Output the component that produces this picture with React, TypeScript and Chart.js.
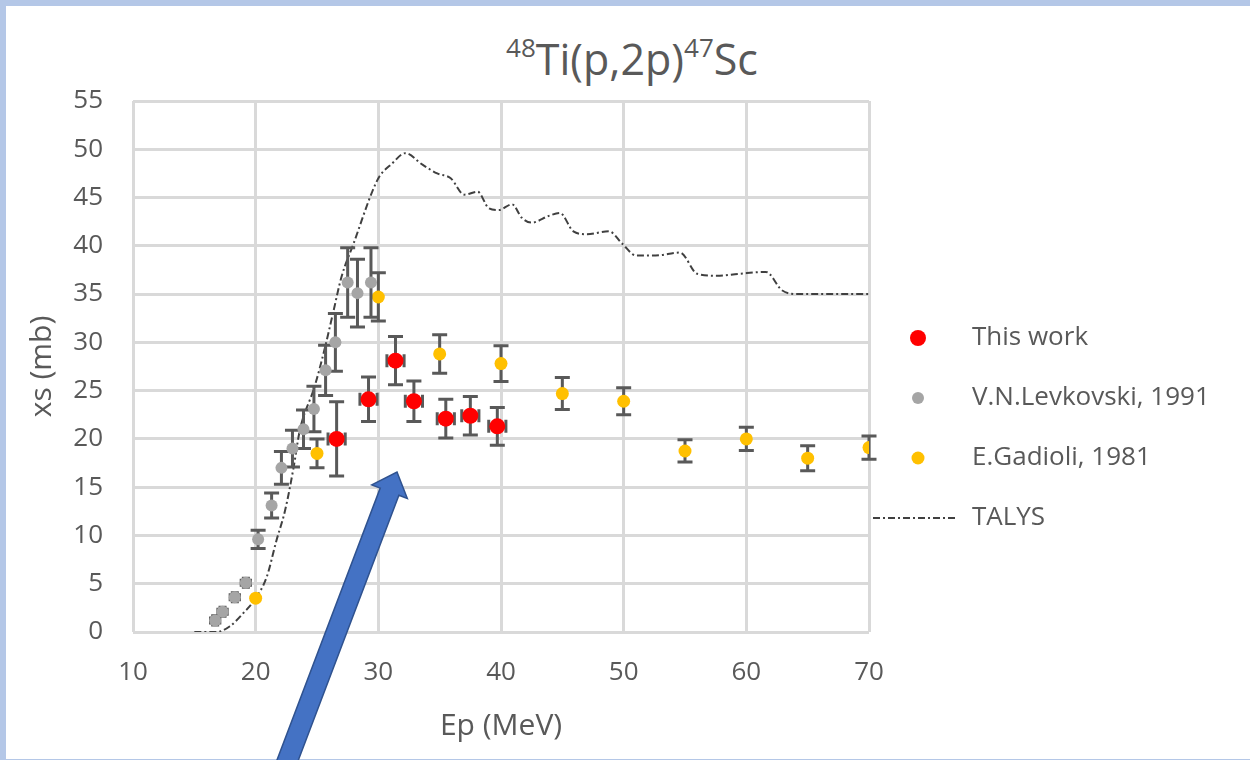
import React, { useEffect, useRef } from "react";
import { Chart, registerables } from "chart.js";

Chart.register(...registerables);

// ---------- data ----------
const thisWorkEnergy = [26.6, 29.2, 31.4, 32.9, 35.5, 37.5, 39.7];
const thisWorkXs = [20.0, 24.1, 28.1, 23.9, 22.1, 22.4, 21.3];
const thisWorkXsErr = [3.85, 2.3, 2.5, 2.1, 2.0, 2.0, 1.95];
const thisWorkEnergyErr = [0.7, 0.7, 0.7, 0.7, 0.7, 0.7, 0.7];

const levkovskiEnergy = [16.7, 17.3, 18.3, 19.2, 20.2, 21.3, 22.1, 23.0, 23.9, 24.75, 25.7, 26.5, 27.5, 28.3, 29.4];
const levkovskiXs = [1.2, 2.1, 3.6, 5.1, 9.6, 13.1, 17.0, 19.0, 21.0, 23.1, 27.1, 30.0, 36.2, 35.1, 36.2];
const levkovskiXsErr = [0.5, 0.5, 0.5, 0.5, 0.95, 1.3, 1.7, 1.9, 2.0, 2.35, 2.6, 3.0, 3.6, 3.5, 3.6];
const levkovskiEnergyErr = [0.4, 0.4, 0.4, 0.4, 0, 0, 0, 0, 0, 0, 0, 0, 0, 0, 0];

const gadioliEnergy = [20, 25, 30, 35, 40, 45, 50, 55, 60, 65, 70];
const gadioliXs = [3.5, 18.5, 34.7, 28.8, 27.8, 24.7, 23.9, 18.75, 20.0, 18.0, 19.1];
const gadioliXsErr = [0, 1.5, 2.5, 2.0, 1.85, 1.65, 1.4, 1.15, 1.2, 1.3, 1.2];

const talysEnergy = [15, 16.8, 17.9, 19.1, 19.9, 20.9, 21.7, 22.4, 23.1, 23.6, 24.8, 25.6, 26.3, 27.0, 28.0, 29.5, 30.1, 31.1, 32.2, 33.6, 34.8, 35.9, 37.0, 38.1, 39.0, 39.8, 40.9, 41.7, 42.5, 43.9, 44.8, 45.9, 47.0, 48.8, 49.9, 51.0, 52.6, 54.6, 56.0, 57.6, 59.4, 61.6, 62.9, 64.1, 70];
const talysXs = [0, 0, 0.6, 2.1, 3.3, 5.7, 9.5, 12.6, 17.1, 20.9, 25.4, 29.2, 33.0, 36.8, 40.3, 45.6, 47.2, 48.5, 49.6, 48.4, 47.5, 47.0, 45.3, 45.6, 43.9, 43.7, 44.3, 42.9, 42.4, 43.1, 43.4, 41.5, 41.2, 41.5, 40.2, 39.0, 39.0, 39.3, 37.1, 36.9, 37.1, 37.3, 35.4, 35.0, 35.0];

const xTickMin = 10;
const xTickMax = 70;
const xTickStep = 10;
const yTickMin = 0;
const yTickMax = 55;
const yTickStep = 5;

const seriesLabels = ["This work", "V.N.Levkovski, 1991", "E.Gadioli, 1981", "TALYS"];

// ---------- styles ----------
const TEXT = "#595959";
const FONT = "'Open Sans', 'Noto Sans', sans-serif";

const toPoints = (xs: number[], ys: number[]) => xs.map((x, i) => ({ x, y: ys[i] }));

const errorBarPlugin = {
  id: "errorBars",
  beforeDatasetDraw(chart: any, args: any) {
    const ds = chart.data.datasets[args.index];
    if (!ds.errY && !ds.errX) return;
    const ctx = chart.ctx;
    const xs = chart.scales.x;
    const ys = chart.scales.y;
    ctx.save();
    ctx.strokeStyle = "#595959";
    ctx.lineCap = "butt";
    ds.data.forEach((p: any, i: number) => {
      const px = xs.getPixelForValue(p.x);
      const py = ys.getPixelForValue(p.y);
      const ey = ds.errY ? ds.errY[i] : 0;
      const ex = ds.errX ? ds.errX[i] : 0;
      const small = ey && ey < 0.7;
      ctx.lineWidth = small ? 2.5 : 3;
      const cap = small ? 4 : 7.5;
      if (ey) {
        const t = ys.getPixelForValue(p.y + ey);
        const b = ys.getPixelForValue(p.y - ey);
        ctx.beginPath();
        ctx.moveTo(px, t);
        ctx.lineTo(px, b);
        ctx.moveTo(px - cap, t);
        ctx.lineTo(px + cap, t);
        ctx.moveTo(px - cap, b);
        ctx.lineTo(px + cap, b);
        ctx.stroke();
      }
      if (ex) {
        const l = xs.getPixelForValue(p.x - ex);
        const r = xs.getPixelForValue(p.x + ex);
        const c2 = small ? 4 : 6.5;
        ctx.beginPath();
        ctx.moveTo(l, py);
        ctx.lineTo(r, py);
        ctx.moveTo(l, py - c2);
        ctx.lineTo(l, py + c2);
        ctx.moveTo(r, py - c2);
        ctx.lineTo(r, py + c2);
        ctx.stroke();
      }
    });
    ctx.restore();
  },
};

const legendPlugin = {
  id: "customLegend",
  afterDraw(chart: any) {
    const ctx = chart.ctx;
    const markerX = 918;
    const textX = 972;
    const y0 = 338;
    const step = 60;
    ctx.save();
    ctx.font = `26px ${FONT}`;
    ctx.fillStyle = TEXT;
    ctx.textBaseline = "middle";
    ctx.textAlign = "left";
    chart.data.datasets.forEach((ds: any, i: number) => {
      const y = y0 + i * step;
      if (ds.showLine) {
        ctx.save();
        ctx.strokeStyle = ds.borderColor;
        ctx.lineWidth = ds.borderWidth;
        ctx.setLineDash(ds.borderDash);
        ctx.beginPath();
        ctx.moveTo(873, y);
        ctx.lineTo(958, y);
        ctx.stroke();
        ctx.restore();
      } else {
        ctx.save();
        ctx.fillStyle = ds.backgroundColor;
        ctx.beginPath();
        ctx.arc(markerX, y, ds.pointRadius, 0, Math.PI * 2);
        ctx.fill();
        ctx.restore();
      }
      ctx.fillText(ds.label, textX, y);
    });
    ctx.restore();
  },
};

const arrowPlugin = {
  id: "arrow",
  afterDraw(chart: any) {
    const ctx = chart.ctx;
    const tail = { x: 282, y: 775 };
    const tip = { x: 397, y: 472 };
    const dx = tip.x - tail.x;
    const dy = tip.y - tail.y;
    const len = Math.hypot(dx, dy);
    const ux = dx / len;
    const uy = dy / len;
    const nx = -uy;
    const ny = ux;
    const headLen = 21;
    const headHalf = 19;
    const shaftHalf = 10;
    const bx = tip.x - ux * headLen;
    const by = tip.y - uy * headLen;
    ctx.save();
    ctx.beginPath();
    ctx.moveTo(tail.x + nx * shaftHalf, tail.y + ny * shaftHalf);
    ctx.lineTo(bx + nx * shaftHalf, by + ny * shaftHalf);
    ctx.lineTo(bx + nx * headHalf, by + ny * headHalf);
    ctx.lineTo(tip.x, tip.y);
    ctx.lineTo(bx - nx * headHalf, by - ny * headHalf);
    ctx.lineTo(bx - nx * shaftHalf, by - ny * shaftHalf);
    ctx.lineTo(tail.x - nx * shaftHalf, tail.y - ny * shaftHalf);
    ctx.closePath();
    ctx.fillStyle = "#4472c4";
    ctx.fill();
    ctx.strokeStyle = "#2f528f";
    ctx.lineWidth = 1.5;
    ctx.stroke();
    ctx.restore();
  },
};

export default function App() {
  const canvasRef = useRef<HTMLCanvasElement | null>(null);

  useEffect(() => {
    if (!canvasRef.current) return;
    Chart.defaults.font.family = FONT;
    const chart = new Chart(canvasRef.current, {
      type: "scatter",
      data: {
        datasets: [
          {
            label: seriesLabels[0],
            data: toPoints(thisWorkEnergy, thisWorkXs),
            errY: thisWorkXsErr,
            errX: thisWorkEnergyErr,
            backgroundColor: "#ff0000",
            borderColor: "#ff0000",
            pointRadius: 8,
            pointBorderWidth: 0,
            showLine: false,
          } as any,
          {
            label: seriesLabels[1],
            data: toPoints(levkovskiEnergy, levkovskiXs),
            errY: levkovskiXsErr,
            errX: levkovskiEnergyErr,
            backgroundColor: "#a5a5a5",
            borderColor: "#a5a5a5",
            pointRadius: 6,
            pointBorderWidth: 0,
            showLine: false,
          } as any,
          {
            label: seriesLabels[2],
            data: toPoints(gadioliEnergy, gadioliXs),
            errY: gadioliXsErr,
            backgroundColor: "#ffc000",
            borderColor: "#ffc000",
            pointRadius: 6.5,
            pointBorderWidth: 0,
            showLine: false,
          } as any,
          {
            label: seriesLabels[3],
            data: toPoints(talysEnergy, talysXs),
            showLine: true,
            borderColor: "#404040",
            backgroundColor: "#404040",
            borderWidth: 2,
            borderDash: [7, 3, 2, 3],
            pointRadius: 0,
            cubicInterpolationMode: "monotone",
          } as any,
        ],
      },
      options: {
        animation: false,
        responsive: false,
        events: [],
        layout: { padding: { left: 0, top: 101, right: 381, bottom: 0 } },
        plugins: {
          legend: { display: false },
          title: { display: false },
          tooltip: { enabled: false },
        },
        scales: {
          x: {
            type: "linear",
            min: xTickMin,
            max: xTickMax,
            ticks: { stepSize: xTickStep, padding: 25, color: TEXT, font: { size: 26 } },
            grid: { color: "#d9d9d9", lineWidth: 3, drawTicks: false },
            border: { display: false },
            title: {
              display: true,
              text: "Ep (MeV)",
              color: TEXT,
              font: { size: 30 },
              padding: { top: 0, bottom: 16 },
            },
            afterFit: (s: any) => {
              s.height = 128;
            },
          },
          y: {
            type: "linear",
            min: yTickMin,
            max: yTickMax,
            ticks: { stepSize: yTickStep, padding: 30, color: TEXT, font: { size: 26 } },
            grid: { color: "#d9d9d9", lineWidth: 3, drawTicks: false },
            border: { display: false },
            title: {
              display: true,
              text: "xs (mb)",
              color: TEXT,
              font: { size: 30 },
              padding: { top: 24, bottom: 0 },
            },
            afterFit: (s: any) => {
              s.width = 133;
            },
          },
        },
      } as any,
      plugins: [errorBarPlugin, legendPlugin, arrowPlugin],
    });
    return () => chart.destroy();
  }, []);

  return (
    <div
      style={{
        position: "fixed",
        left: 0,
        top: 0,
        width: 1250,
        height: 760,
        background: "#b4c7e7",
        overflow: "hidden",
      }}
    >
      <div
        style={{
          position: "absolute",
          left: 6,
          top: 6,
          width: 1244,
          height: 753,
          background: "#ffffff",
        }}
      />
      <div
        style={{
          position: "absolute",
          left: 0,
          top: 37,
          width: 1264,
          textAlign: "center",
          fontFamily: FONT,
          fontSize: 43,
          lineHeight: "43px",
          color: TEXT,
          whiteSpace: "nowrap",
        }}
      >
        <span style={{ fontSize: 26, position: "relative", top: -18 }}>48</span>
        Ti(p,2p)
        <span style={{ fontSize: 26, position: "relative", top: -18 }}>47</span>
        Sc
      </div>
      <canvas
        ref={canvasRef}
        width={1250}
        height={760}
        style={{ position: "absolute", left: 0, top: 0, width: 1250, height: 760 }}
      />
    </div>
  );
}
